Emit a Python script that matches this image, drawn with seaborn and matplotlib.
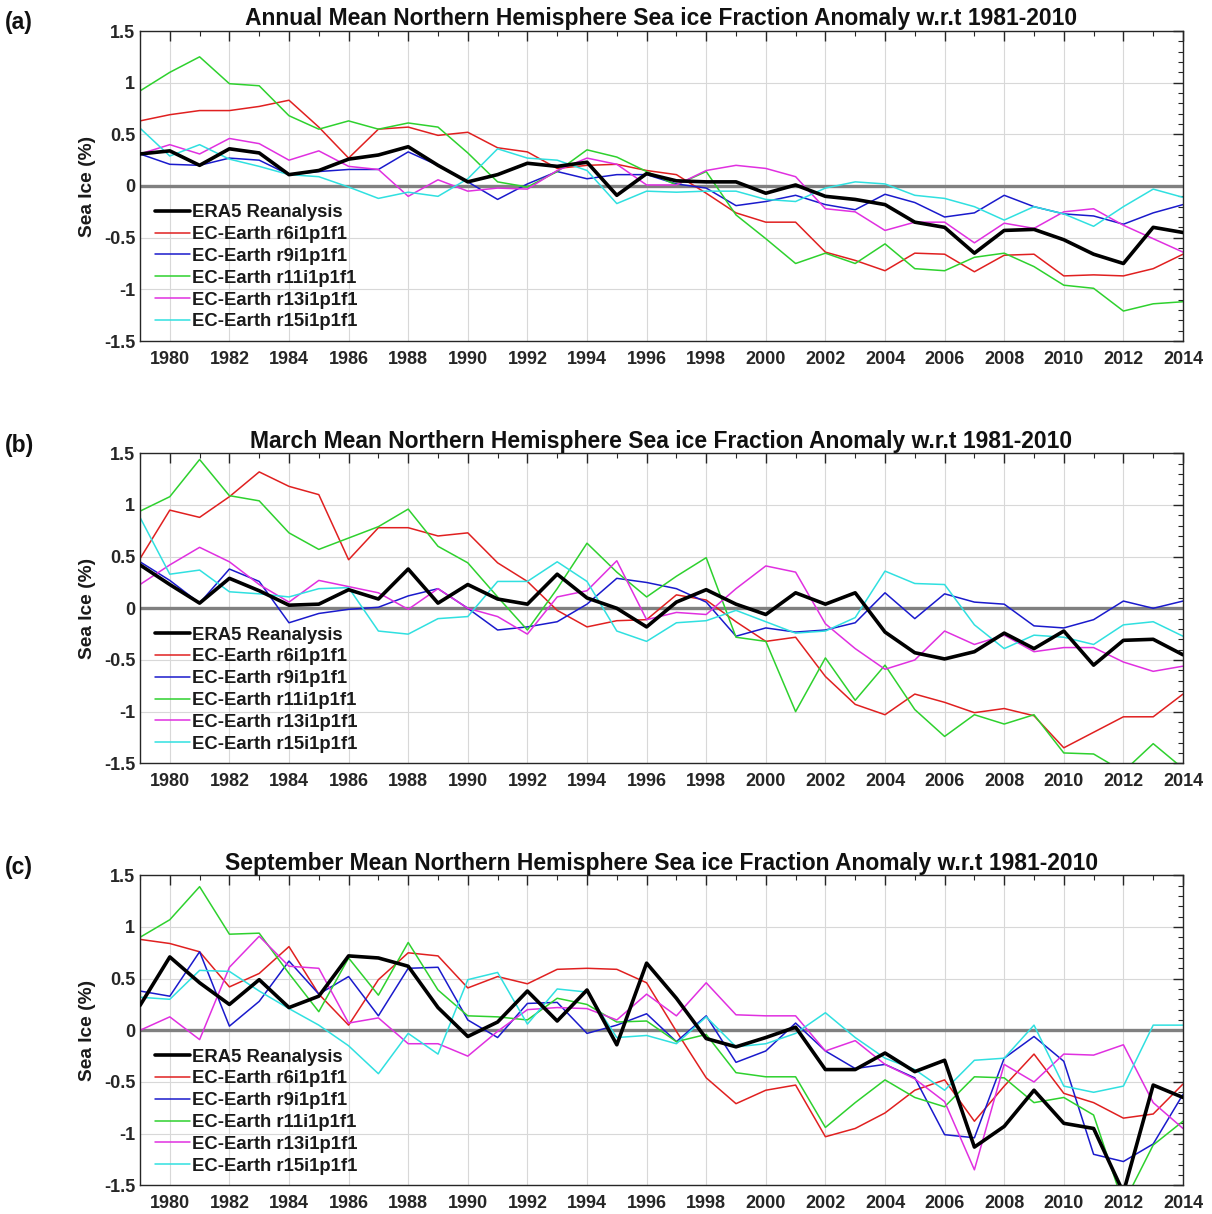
import numpy as np
import pandas as pd
import matplotlib
matplotlib.use('Agg')
import matplotlib.pyplot as plt
import seaborn as sns
from matplotlib.ticker import MultipleLocator

years = list(range(1979, 2015))
series_names = ['ERA5 Reanalysis', 'EC-Earth r6i1p1f1', 'EC-Earth r9i1p1f1',
                'EC-Earth r11i1p1f1', 'EC-Earth r13i1p1f1', 'EC-Earth r15i1p1f1']
titles = ['Annual Mean Northern Hemisphere Sea ice Fraction Anomaly w.r.t 1981-2010',
          'March Mean Northern Hemisphere Sea ice Fraction Anomaly w.r.t 1981-2010',
          'September Mean Northern Hemisphere Sea ice Fraction Anomaly w.r.t 1981-2010']
panel_tags = ['(a)', '(b)', '(c)']
ytick_values = [-1.5, -1, -0.5, 0, 0.5, 1, 1.5]
ytick_labels = ['-1.5', '-1', '-0.5', '0', '0.5', '1', '1.5']
xtick_values = list(range(1980, 2015, 2))
xtick_labels = [str(y) for y in xtick_values]

# ---- Panel (a): Annual ----
a_era5 = [0.31, 0.34, 0.20, 0.36, 0.32, 0.11, 0.15, 0.26, 0.30, 0.38, 0.20, 0.04,
          0.11, 0.22, 0.19, 0.23, -0.09, 0.12, 0.05, 0.04, 0.04, -0.07, 0.01, -0.10,
          -0.13, -0.18, -0.35, -0.40, -0.65, -0.43, -0.42, -0.52, -0.66, -0.75, -0.40, -0.45]
a_r6 = [0.63, 0.69, 0.73, 0.73, 0.77, 0.83, 0.57, 0.27, 0.55, 0.57, 0.49, 0.52,
        0.37, 0.33, 0.17, 0.20, 0.21, 0.15, 0.11, -0.07, -0.26, -0.35, -0.35, -0.64,
        -0.72, -0.82, -0.65, -0.66, -0.83, -0.67, -0.66, -0.87, -0.86, -0.87, -0.80, -0.66]
a_r9 = [0.31, 0.21, 0.20, 0.27, 0.25, 0.11, 0.14, 0.16, 0.16, 0.33, 0.20, 0.04,
        -0.13, 0.02, 0.14, 0.07, 0.11, 0.11, 0.02, -0.02, -0.19, -0.15, -0.09, -0.18,
        -0.23, -0.08, -0.16, -0.30, -0.26, -0.09, -0.20, -0.27, -0.29, -0.37, -0.26, -0.18]
a_r11 = [0.92, 1.10, 1.25, 0.99, 0.97, 0.68, 0.55, 0.63, 0.55, 0.61, 0.57, 0.32,
         0.04, -0.01, 0.14, 0.35, 0.28, 0.14, 0.01, 0.14, -0.28, -0.51, -0.75, -0.65,
         -0.75, -0.56, -0.80, -0.82, -0.69, -0.65, -0.78, -0.96, -0.99, -1.21, -1.14, -1.12]
a_r13 = [0.31, 0.40, 0.31, 0.46, 0.41, 0.25, 0.34, 0.19, 0.16, -0.10, 0.06, -0.05,
         -0.02, -0.03, 0.15, 0.27, 0.21, 0.01, 0.01, 0.15, 0.20, 0.17, 0.09, -0.22,
         -0.25, -0.43, -0.35, -0.35, -0.55, -0.36, -0.41, -0.25, -0.22, -0.38, -0.51, -0.64]
a_r15 = [0.56, 0.29, 0.40, 0.26, 0.19, 0.11, 0.09, -0.01, -0.12, -0.06, -0.10, 0.07,
         0.36, 0.27, 0.25, 0.15, -0.17, -0.05, -0.06, -0.05, -0.05, -0.13, -0.15, -0.02,
         0.04, 0.02, -0.09, -0.12, -0.20, -0.33, -0.20, -0.27, -0.39, -0.20, -0.03, -0.11]

# ---- Panel (b): March ----
b_era5 = [0.42, 0.23, 0.05, 0.29, 0.17, 0.03, 0.04, 0.18, 0.09, 0.38, 0.05, 0.23,
          0.09, 0.04, 0.33, 0.10, 0.00, -0.18, 0.06, 0.18, 0.04, -0.06, 0.15, 0.04,
          0.15, -0.23, -0.43, -0.49, -0.42, -0.24, -0.39, -0.22, -0.55, -0.31, -0.30, -0.45]
b_r6 = [0.48, 0.95, 0.88, 1.08, 1.32, 1.18, 1.10, 0.47, 0.78, 0.78, 0.70, 0.73,
        0.44, 0.26, -0.02, -0.18, -0.12, -0.11, 0.13, 0.08, -0.13, -0.32, -0.28, -0.66,
        -0.93, -1.03, -0.83, -0.91, -1.01, -0.97, -1.04, -1.35, -1.20, -1.05, -1.05, -0.83]
b_r9 = [0.45, 0.27, 0.05, 0.38, 0.26, -0.14, -0.05, -0.01, 0.01, 0.12, 0.19, 0.00,
        -0.21, -0.18, -0.13, 0.04, 0.29, 0.25, 0.19, 0.06, -0.27, -0.19, -0.23, -0.21,
        -0.14, 0.15, -0.10, 0.14, 0.06, 0.04, -0.17, -0.19, -0.11, 0.07, 0.00, 0.07]
b_r11 = [0.94, 1.08, 1.44, 1.09, 1.04, 0.73, 0.57, 0.68, 0.79, 0.96, 0.60, 0.44,
         0.11, -0.21, 0.19, 0.63, 0.35, 0.11, 0.31, 0.49, -0.28, -0.32, -1.00, -0.48,
         -0.89, -0.55, -0.98, -1.24, -1.03, -1.12, -1.03, -1.40, -1.41, -1.58, -1.31, -1.55]
b_r13 = [0.23, 0.42, 0.59, 0.45, 0.23, 0.06, 0.27, 0.21, 0.15, -0.01, 0.19, 0.00,
         -0.08, -0.25, 0.11, 0.17, 0.46, -0.11, -0.04, -0.06, 0.19, 0.41, 0.35, -0.15,
         -0.39, -0.59, -0.50, -0.22, -0.35, -0.26, -0.42, -0.38, -0.38, -0.52, -0.61, -0.56]
b_r15 = [0.88, 0.33, 0.37, 0.16, 0.14, 0.11, 0.19, 0.20, -0.22, -0.25, -0.10, -0.08,
         0.26, 0.26, 0.45, 0.26, -0.22, -0.32, -0.14, -0.12, -0.02, -0.13, -0.24, -0.22,
         -0.09, 0.36, 0.24, 0.23, -0.16, -0.39, -0.26, -0.28, -0.35, -0.16, -0.13, -0.27]

# ---- Panel (c): September ----
c_era5 = [0.24, 0.71, 0.46, 0.25, 0.49, 0.22, 0.33, 0.72, 0.70, 0.62, 0.22, -0.06,
          0.08, 0.38, 0.09, 0.39, -0.14, 0.65, 0.31, -0.08, -0.16, -0.07, 0.03, -0.38,
          -0.38, -0.22, -0.40, -0.29, -1.13, -0.93, -0.58, -0.90, -0.95, -1.57, -0.53, -0.65]
c_r6 = [0.88, 0.84, 0.76, 0.42, 0.55, 0.81, 0.35, 0.05, 0.49, 0.75, 0.72, 0.41,
        0.52, 0.45, 0.59, 0.60, 0.59, 0.46, -0.01, -0.46, -0.71, -0.58, -0.53, -1.03,
        -0.95, -0.80, -0.58, -0.48, -0.88, -0.54, -0.23, -0.61, -0.70, -0.85, -0.81, -0.52]
c_r9 = [0.38, 0.33, 0.76, 0.04, 0.28, 0.67, 0.35, 0.52, 0.14, 0.60, 0.61, 0.10,
        -0.07, 0.26, 0.27, -0.03, 0.05, 0.16, -0.11, 0.14, -0.31, -0.20, 0.07, -0.20,
        -0.37, -0.33, -0.46, -1.01, -1.04, -0.27, -0.06, -0.30, -1.20, -1.27, -1.10, -0.62]
c_r11 = [0.90, 1.07, 1.39, 0.93, 0.94, 0.55, 0.18, 0.70, 0.34, 0.85, 0.39, 0.14,
         0.13, 0.10, 0.31, 0.25, 0.08, 0.09, -0.11, -0.04, -0.41, -0.45, -0.45, -0.94,
         -0.70, -0.48, -0.65, -0.74, -0.45, -0.46, -0.70, -0.65, -0.82, -1.68, -1.11, -0.88]
c_r13 = [0.00, 0.13, -0.09, 0.61, 0.91, 0.62, 0.60, 0.07, 0.12, -0.13, -0.13, -0.25,
         -0.01, 0.20, 0.22, 0.21, 0.10, 0.35, 0.14, 0.46, 0.15, 0.14, 0.14, -0.20,
         -0.10, -0.33, -0.47, -0.69, -1.35, -0.33, -0.50, -0.23, -0.24, -0.14, -0.70, -0.95]
c_r15 = [0.32, 0.30, 0.58, 0.57, 0.38, 0.21, 0.05, -0.15, -0.42, -0.03, -0.23, 0.49,
         0.56, 0.06, 0.40, 0.37, -0.07, -0.05, -0.13, 0.13, -0.16, -0.13, -0.03, 0.17,
         -0.07, -0.27, -0.38, -0.58, -0.29, -0.27, 0.05, -0.54, -0.60, -0.54, 0.05, 0.05]

panels = [
    [a_era5, a_r6, a_r9, a_r11, a_r13, a_r15],
    [b_era5, b_r6, b_r9, b_r11, b_r13, b_r15],
    [c_era5, c_r6, c_r9, c_r11, c_r13, c_r15],
]

line_colors = ['#000000', '#e02020', '#1a1acc', '#2ed12e', '#e030e0', '#30e0e0']
line_widths = [2.6, 1.1, 1.1, 1.1, 1.1, 1.1]

sns.set_style('white')
plt.rcParams['font.family'] = ['Liberation Sans', 'DejaVu Sans']
plt.rcParams['font.weight'] = 'bold'
plt.rcParams['axes.labelweight'] = 'bold'
plt.rcParams['axes.titleweight'] = 'bold'

W, H = 1212, 1214
fig = plt.figure(figsize=(W / 100, H / 100), dpi=100)

ax_left, ax_right = 140, 1183
tops = [31, 453.3, 875.3]
bots = [341, 763.3, 1185.3]

for i in range(3):
    ax = fig.add_axes([ax_left / W, 1 - bots[i] / H, (ax_right - ax_left) / W, (bots[i] - tops[i]) / H])
    rows = []
    for name, vals in zip(series_names, panels[i]):
        for yr, v in zip(years, vals):
            rows.append((yr, v, name))
    df = pd.DataFrame(rows, columns=['Year', 'Anomaly', 'Series'])

    ax.axhline(0, color='#808080', lw=2.4, zorder=1.5)
    for name, col, lw in zip(series_names, line_colors, line_widths):
        sub = df[df['Series'] == name]
        sns.lineplot(data=sub, x='Year', y='Anomaly', color=col, lw=lw, ax=ax,
                     label=name, zorder=3 if name.startswith('ERA5') else 2.5)

    ax.set_xlim(1979, 2014)
    ax.set_ylim(-1.5, 1.5)
    ax.set_xticks(xtick_values)
    ax.set_xticklabels(xtick_labels)
    ax.set_yticks(ytick_values)
    ax.set_yticklabels(ytick_labels)
    ax.xaxis.set_minor_locator(MultipleLocator(1))
    ax.yaxis.set_minor_locator(MultipleLocator(0.1))
    ax.tick_params(axis='both', which='both', direction='in', top=True, right=True,
                   colors='#262626', labelsize=13)
    ax.tick_params(axis='both', which='major', length=7, width=1)
    ax.tick_params(axis='both', which='minor', length=3.5, width=0.8)
    ax.tick_params(axis='x', pad=7)
    ax.tick_params(axis='y', pad=3.5)
    ax.grid(True, which='major', color='#d8d8d8', lw=0.8)
    ax.set_axisbelow(True)
    for sp in ax.spines.values():
        sp.set_color('#262626')
        sp.set_linewidth(1.0)

    ax.set_xlabel('')
    ax.set_ylabel('Sea Ice (%)', fontsize=13.8, fontweight='bold', color='#1a1a1a')
    ax.yaxis.set_label_coords(-(ax_left - 96) / (ax_right - ax_left), 0.5)
    ax.set_title(titles[i], fontsize=16.5, fontweight='bold', pad=4, color='#111111')

    leg = ax.legend(loc='upper left', bbox_to_anchor=(0.014, 0.441), frameon=False,
                    prop={'weight': 'bold', 'size': 13.3}, handlelength=1.9,
                    handletextpad=0.1, labelspacing=0.26, borderpad=0, borderaxespad=0)
    for t in leg.get_texts():
        t.set_color('#1a1a1a')

    fig.text(5 / W, 1 - (tops[i] - 8) / H, panel_tags[i], fontsize=16.5, fontweight='bold',
             va='center', ha='left', color='#111111')

fig.savefig('out.png', dpi=100)
